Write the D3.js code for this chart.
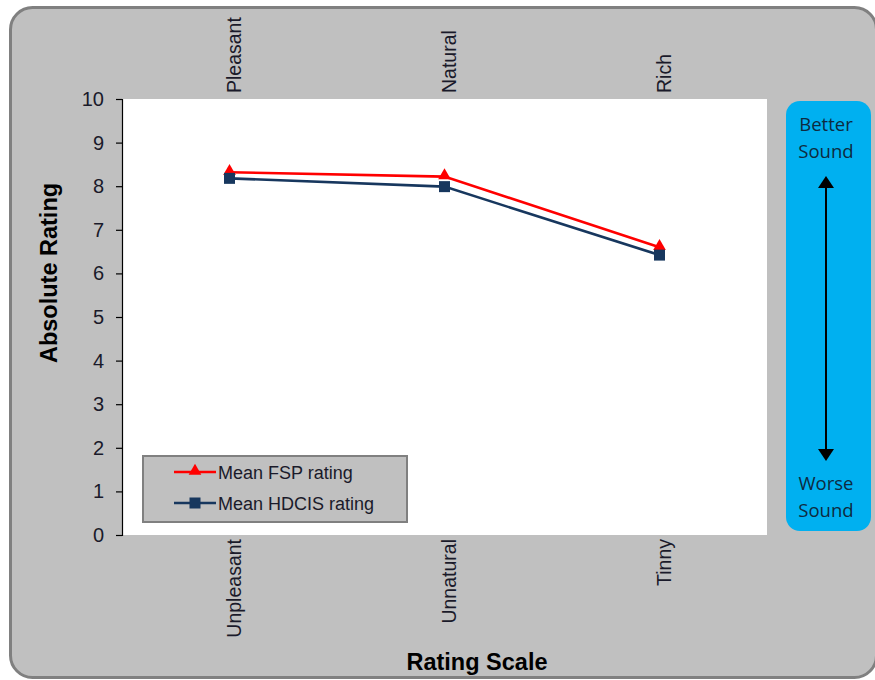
<!DOCTYPE html>
<html>
<head>
<meta charset="utf-8">
<script src="https://cdn.jsdelivr.net/npm/d3@7"></script>
<style>
  html, body { margin: 0; padding: 0; background: #ffffff; }
  svg { display: block; }
</style>
</head>
<body>
<svg id="chart" width="875" height="680"></svg>
<script>
// Rating scales: positive pole on top, negative pole below
const topLabels = ["Pleasant", "Natural", "Rich"];
const bottomLabels = ["Unpleasant", "Unnatural", "Tinny"];
const fspValues = [8.32, 8.22, 6.60];
const hdcisValues = [8.18, 7.99, 6.42];
const yTicks = [0, 1, 2, 3, 4, 5, 6, 7, 8, 9, 10];
const seriesNames = ["Mean FSP rating", "Mean HDCIS rating"];

const svg = d3.select("#chart");
const font = "'Liberation Sans', Arial, sans-serif";
const textColor = "#1a1a2a";

// Outer rounded panel
svg.append("rect")
  .attr("x", 10.5).attr("y", 7.5)
  .attr("width", 866).attr("height", 670)
  .attr("rx", 22).attr("ry", 22)
  .attr("fill", "#c0c0c0")
  .attr("stroke", "#808080").attr("stroke-width", 3);

const plot = { left: 122, top: 99, right: 767, bottom: 535 };

// White plot area
svg.append("rect")
  .attr("x", plot.left).attr("y", plot.top)
  .attr("width", plot.right - plot.left).attr("height", plot.bottom - plot.top)
  .attr("fill", "#ffffff");

const x = d3.scaleBand().domain(d3.range(topLabels.length))
  .range([plot.left, plot.right]).padding(0);
const y = d3.scaleLinear().domain([0, 10]).range([plot.bottom, plot.top]);
const cx = i => x(i) + x.bandwidth() / 2;

// Y axis
const yAxis = svg.append("g")
  .attr("transform", `translate(${plot.left},0)`)
  .call(d3.axisLeft(y).tickValues(yTicks).tickSize(6).tickPadding(12).tickFormat(d3.format("d")));
yAxis.select(".domain").attr("stroke", "#000").attr("stroke-width", 1.2);
yAxis.selectAll(".tick line").attr("stroke", "#000").attr("stroke-width", 1.2);
yAxis.selectAll(".tick text")
  .attr("font-family", font).attr("font-size", 20).attr("fill", textColor);

// Category pole labels (rotated)
svg.append("g").selectAll("text").data(topLabels).join("text")
  .attr("transform", (d, i) => `translate(${cx(i) + 11},93) rotate(-90)`)
  .attr("text-anchor", "start")
  .attr("font-family", font).attr("font-size", 19.5).attr("fill", textColor)
  .text(d => d);

svg.append("g").selectAll("text").data(bottomLabels).join("text")
  .attr("transform", (d, i) => `translate(${cx(i) + 11},539) rotate(-90)`)
  .attr("text-anchor", "end")
  .attr("font-family", font).attr("font-size", 19.5).attr("fill", textColor)
  .text(d => d);

// Axis titles
svg.append("text")
  .attr("transform", `translate(57,273) rotate(-90)`)
  .attr("text-anchor", "middle")
  .attr("font-family", font).attr("font-size", 23.5).attr("font-weight", "bold")
  .attr("fill", "#000")
  .text("Absolute Rating");

svg.append("text")
  .attr("x", 477).attr("y", 670)
  .attr("text-anchor", "middle")
  .attr("font-family", font).attr("font-size", 23.5).attr("font-weight", "bold")
  .attr("fill", "#000")
  .text("Rating Scale");

// Series lines
const line = d3.line().x((d, i) => cx(i)).y(d => y(d));
const colors = ["#ff0000", "#17375e"];
const triangle = d3.symbol().type(d3.symbolTriangle).size(70);

svg.append("path").datum(hdcisValues)
  .attr("d", line).attr("fill", "none")
  .attr("stroke", colors[1]).attr("stroke-width", 2.6);
svg.append("path").datum(fspValues)
  .attr("d", line).attr("fill", "none")
  .attr("stroke", colors[0]).attr("stroke-width", 2.6);

svg.append("g").selectAll("path").data(fspValues).join("path")
  .attr("d", triangle)
  .attr("transform", (d, i) => `translate(${cx(i)},${y(d) - 1})`)
  .attr("fill", colors[0]);

svg.append("g").selectAll("rect").data(hdcisValues).join("rect")
  .attr("x", (d, i) => cx(i) - 5.5).attr("y", d => y(d) - 5.5)
  .attr("width", 11).attr("height", 11)
  .attr("fill", colors[1]);

// Legend
const legend = svg.append("g");
legend.append("rect")
  .attr("x", 143).attr("y", 456).attr("width", 264).attr("height", 66)
  .attr("fill", "#c0c0c0").attr("stroke", "#808080").attr("stroke-width", 2);

const legendRows = [472, 503];
seriesNames.forEach((name, i) => {
  const ly = legendRows[i];
  legend.append("line")
    .attr("x1", 174).attr("x2", 216).attr("y1", ly).attr("y2", ly)
    .attr("stroke", colors[i]).attr("stroke-width", 2.6);
  if (i === 0) {
    legend.append("path").attr("d", triangle)
      .attr("transform", `translate(195,${ly - 1})`).attr("fill", colors[i]);
  } else {
    legend.append("rect").attr("x", 189.5).attr("y", ly - 5.5)
      .attr("width", 11).attr("height", 11).attr("fill", colors[i]);
  }
  legend.append("text")
    .attr("x", 218).attr("y", ly + 6.5)
    .attr("font-family", font).attr("font-size", 18).attr("fill", textColor)
    .text(name);
});

// Better / worse sound indicator
const side = svg.append("g");
side.append("rect")
  .attr("x", 786).attr("y", 101).attr("width", 85).attr("height", 430)
  .attr("rx", 14).attr("ry", 14).attr("fill", "#00b0f0");

const sideFont = "'Open Sans', 'Noto Sans', sans-serif";
[["Better", 131], ["Sound", 158], ["Worse", 490], ["Sound", 517]].forEach(([t, ty]) => {
  side.append("text")
    .attr("x", 826).attr("y", ty).attr("text-anchor", "middle")
    .attr("font-family", sideFont).attr("font-size", 18.5).attr("fill", "#0e2a40")
    .text(t);
});

side.append("line")
  .attr("x1", 826).attr("x2", 826).attr("y1", 185).attr("y2", 452)
  .attr("stroke", "#000").attr("stroke-width", 2);
side.append("path")
  .attr("d", "M826,176 L818,188 L834,188 Z").attr("fill", "#000");
side.append("path")
  .attr("d", "M826,461 L818,449 L834,449 Z").attr("fill", "#000");
</script>
</body>
</html>
